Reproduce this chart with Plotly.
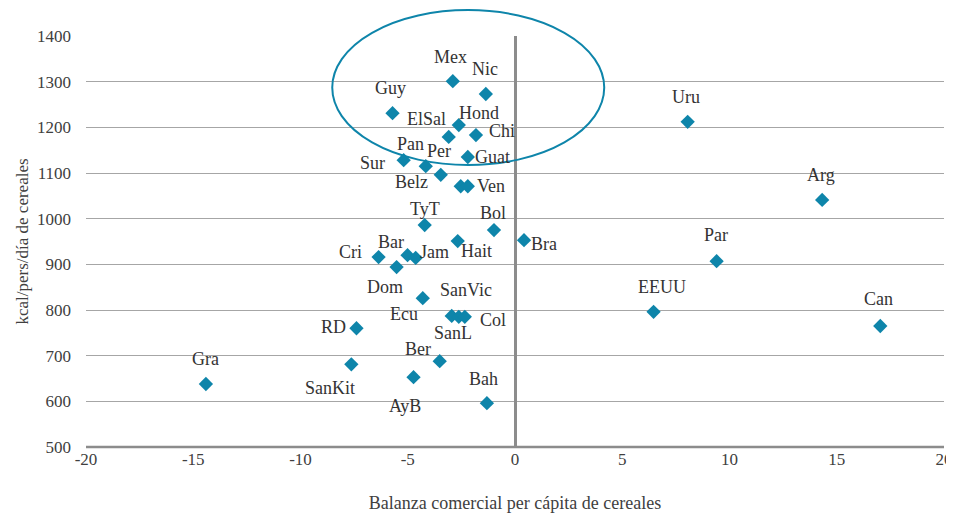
import plotly.graph_objects as go

# ── 数据 ────────────────────────────────────────────────────────────────
paises = ["Mex", "Nic", "Guy", "Hond", "ElSal", "Chi", "Sur", "Pan", "Guat", "Per",
          "Belz", "Ven", "TyT", "Bol", "Bra", "Hait", "Cri", "Bar", "Jam", "Dom",
          "Ecu", "SanVic", "SanL", "Col", "RD", "SanKit", "AyB", "Ber", "Bah", "Gra",
          "Uru", "Arg", "Par", "EEUU", "Can"]
balanza = [-2.90, -1.36, -5.71, -2.62, -3.09, -1.82, -5.19, -4.16, -2.20, -3.46,
           -2.53, -2.20, -4.21, -0.98, 0.42, -2.67, -6.36, -5.01, -4.63, -5.52,
           -4.30, -2.95, -2.62, -2.34, -7.39, -7.63, -4.73, -3.51, -1.31, -14.41,
           8.05, 14.32, 9.40, 6.46, 17.03]
kcal = [1301, 1273, 1231, 1205, 1179, 1183, 1128, 1115, 1135, 1096,
        1071, 1071, 986, 975, 953, 951, 916, 920, 914, 894,
        826, 787, 785, 785, 760, 681, 653, 688, 596, 638,
        1212, 1041, 907, 796, 765]

x_ticks = [-20, -15, -10, -5, 0, 5, 10, 15, 20]
x_ticktext = ["-20", "-15", "-10", "-5", "0", "5", "10", "15", "20"]

# label offsets in pixels (dx, dy; dy positive = down)
offsets = [(-2, -24), (-1, -25), (-2, -25), (20, -12), (-22, -18), (26, -4), (-31, 3),
           (-15, -22), (25, 0), (-2, -24), (-49, -4), (23, 0), (0, -16), (-1, -17),
           (20, 4), (19, 10), (-28, -5), (-17, -13), (19, -6), (-12, 20), (-19, 16),
           (14, -26), (-6, 16), (28, 3), (-23, -1), (-21, 24), (-9, 29), (-22, -12),
           (-3, -24), (0, -25), (-2, -25), (-1, -25), (-1, -26), (8, -25), (-2, -27)]

TEAL = "#0E85AA"
GRID = "#A6A6A6"
AXIS = "#8C8C8C"
TXT = "#404040"
FONT = "'Liberation Serif', 'Times New Roman', serif"
FS = 18

fig = go.Figure()
fig.add_trace(go.Scatter(
    x=balanza, y=kcal, mode="markers", text=paises,
    marker=dict(symbol="diamond", size=11, color=TEAL),
    hovertemplate="<b>%{text}</b><br>%{x:.2f}, %{y:.0f}<extra></extra>",
    showlegend=False,
))

for name, xv, yv, (dx, dy) in zip(paises, balanza, kcal, offsets):
    fig.add_annotation(x=xv, y=yv, text=name, showarrow=False,
                       xshift=dx, yshift=-dy,
                       font=dict(family=FONT, size=FS, color="#333333"))

# 椭圆标注（纸面坐标，不裁剪）
fig.add_shape(type="circle", xref="paper", yref="paper",
              x0=0.287, x1=0.604, y0=0.686, y1=1.063,
              line=dict(color=TEAL, width=2))

# 页面 body 默认有 8px 边距：绘图区左移/上移 8px，高度减 16px 以免出现滚动条
fig.update_layout(
    width=946, height=505,
    paper_bgcolor="white", plot_bgcolor="white",
    margin=dict(l=78, r=10, t=28, b=66, autoexpand=False),
    font=dict(family=FONT, size=FS, color=TXT),
    xaxis=dict(range=[-20, 20], tickvals=x_ticks, ticktext=x_ticktext,
               showgrid=False, zeroline=True, automargin=False,
               zerolinecolor=AXIS, zerolinewidth=3, showline=False,
               ticks="", ticklabeloverflow="allow",
               tickfont=dict(family=FONT, size=FS - 1, color=TXT),
               title=dict(text="Balanza comercial per cápita de cereales",
                          font=dict(family=FONT, size=FS, color=TXT), standoff=28)),
    yaxis=dict(range=[500, 1400], dtick=100, showgrid=True, gridcolor=GRID,
               gridwidth=1, zeroline=False, showline=False, ticks="",
               automargin=False, ticklabelstandoff=14,
               tickfont=dict(family=FONT, size=FS - 1, color=TXT),
               title=dict(text="kcal/pers/día de cereales",
                          font=dict(family=FONT, size=FS - 1, color=TXT), standoff=4)),
)
# x 轴底线（500 处）
fig.add_shape(type="line", xref="paper", yref="paper", x0=0, x1=1, y0=0, y1=0,
              line=dict(color=AXIS, width=2.5))

fig.write_html("out.html")
